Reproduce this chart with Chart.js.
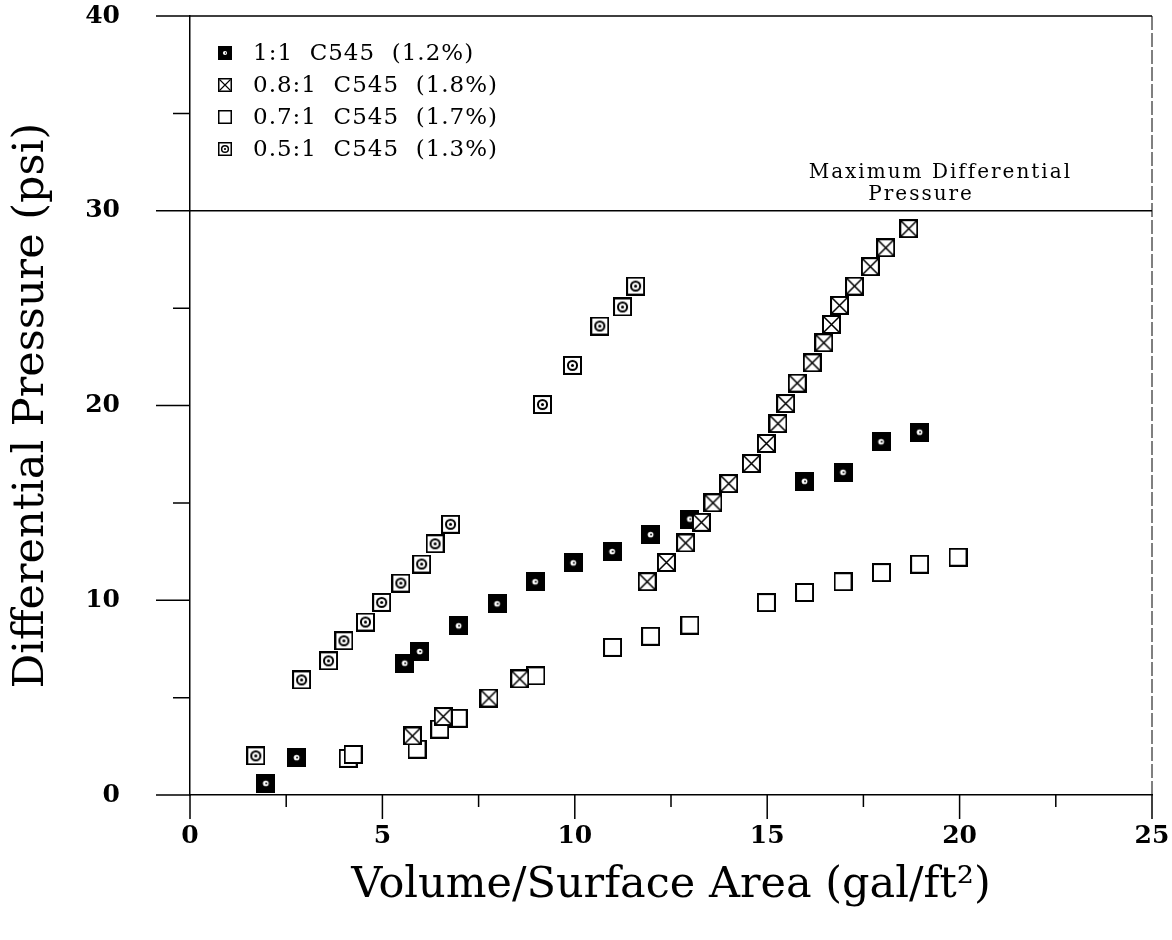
<!DOCTYPE html>
<html>
<head>
<meta charset="utf-8">
<script src="https://cdn.jsdelivr.net/npm/chart.js@4.4.1/dist/chart.umd.min.js"></script>
<style>
  html, body { margin: 0; padding: 0; background: #fff; }
</style>
</head>
<body>
<canvas id="chart" width="1172" height="940"></canvas>
<script>
// 1:1 C545 (1.2%) - filled squares
const ratio11X = [1.97, 2.77, 5.58, 5.97, 6.98, 7.98, 8.97, 9.96, 10.97, 11.97, 12.99, 15.97, 16.97, 17.96, 18.96];
const ratio11Y = [0.6, 1.92, 6.77, 7.37, 8.69, 9.82, 10.95, 11.92, 12.5, 13.37, 14.17, 16.11, 16.57, 18.14, 18.63];

// 0.8:1 C545 (1.8%) - crossed squares
const ratio08X = [5.78, 6.58, 7.77, 8.57, 11.88, 12.38, 12.88, 13.29, 13.59, 14.0, 14.59, 14.98, 15.28, 15.48, 15.78, 16.17, 16.47, 16.67, 16.88, 17.27, 17.68, 18.08, 18.68];
const ratio08Y = [3.03, 4.03, 4.98, 5.96, 10.95, 11.94, 12.94, 14.0, 15.0, 15.99, 17.02, 18.05, 19.07, 20.1, 21.15, 22.19, 23.22, 24.16, 25.14, 26.13, 27.13, 28.1, 29.08];

// 0.7:1 C545 (1.7%) - open squares
const ratio07X = [4.11, 4.24, 5.9, 6.49, 6.97, 8.99, 10.98, 11.97, 12.99, 14.98, 15.97, 16.97, 17.97, 18.96, 19.96];
const ratio07Y = [1.88, 2.08, 2.35, 3.38, 3.94, 6.12, 7.58, 8.15, 8.72, 9.88, 10.4, 10.95, 11.42, 11.85, 12.21];

// 0.5:1 C545 (1.3%) - squares with a dot
const ratio05X = [1.71, 2.9, 3.6, 4.0, 4.56, 4.98, 5.48, 6.02, 6.37, 6.77, 9.16, 9.94, 10.65, 11.24, 11.58];
const ratio05Y = [2.01, 5.91, 6.89, 7.92, 8.88, 9.89, 10.88, 11.86, 12.9, 13.9, 20.05, 22.06, 24.08, 25.06, 26.13];

const seriesLabels = ['1:1  C545  (1.2%)', '0.8:1  C545  (1.8%)', '0.7:1  C545  (1.7%)', '0.5:1  C545  (1.3%)'];
const xTicks = [0, 5, 10, 15, 20, 25];
const yTicks = [0, 10, 20, 30, 40];
const maxLineX = [0, 25];
const maxLineY = [30, 30];
const maxLineText = ['Maximum Differential', 'Pressure'];

const FONT = '"DejaVu Serif", "Liberation Serif", serif';

// Build the marker images used as point styles
function makeMarker(kind, size) {
  const c = document.createElement('canvas');
  c.width = size;
  c.height = size;
  const g = c.getContext('2d');
  const lw = size > 16 ? 2 : 1.5;
  if (kind === 'filled') {
    g.fillStyle = '#000';
    g.fillRect(0, 0, size, size);
    g.fillStyle = '#fff';
    g.beginPath();
    g.arc(size / 2, size / 2, size * 0.15, 0, Math.PI * 2);
    g.fill();
    g.fillStyle = '#000';
    g.beginPath();
    g.arc(size / 2 + 0.5, size / 2, size * 0.05, 0, Math.PI * 2);
    g.fill();
    return c;
  }
  g.fillStyle = '#fff';
  g.fillRect(0, 0, size, size);
  g.strokeStyle = '#000';
  g.lineWidth = lw;
  g.strokeRect(lw / 2, lw / 2, size - lw, size - lw);
  if (kind === 'cross') {
    g.lineWidth = lw * 0.75;
    g.beginPath();
    g.moveTo(lw, lw);
    g.lineTo(size - lw, size - lw);
    g.moveTo(size - lw, lw);
    g.lineTo(lw, size - lw);
    g.stroke();
  }
  if (kind === 'dot') {
    g.lineWidth = lw;
    g.beginPath();
    g.arc(size / 2, size / 2, size * 0.24, 0, Math.PI * 2);
    g.stroke();
    g.fillStyle = '#000';
    g.beginPath();
    g.arc(size / 2, size / 2, size * 0.08, 0, Math.PI * 2);
    g.fill();
  }
  return c;
}

const markerKinds = ['filled', 'cross', 'open', 'dot'];
const plotMarkers = markerKinds.map(k => makeMarker(k, 19));
const legendMarkers = markerKinds.map(k => makeMarker(k, 14));

const toPoints = (xs, ys) => xs.map((x, i) => ({ x: x, y: ys[i] }));

// Ticks, frame and the max pressure label
const framePlugin = {
  id: 'frame',
  afterDraw(chart) {
    const { ctx, chartArea: a, scales: { x, y } } = chart;
    ctx.save();
    ctx.strokeStyle = '#000';
    ctx.lineWidth = 1.5;
    ctx.beginPath();
    for (let v = 0; v <= 40; v += 5) {
      const py = y.getPixelForValue(v);
      const len = v % 10 === 0 ? 34 : 17;
      ctx.moveTo(a.left - len, py);
      ctx.lineTo(a.left, py);
    }
    for (let v = 0; v <= 25; v += 2.5) {
      const px = x.getPixelForValue(v);
      const len = v % 5 === 0 ? 24 : 12;
      ctx.moveTo(px, a.bottom);
      ctx.lineTo(px, a.bottom + len);
    }
    // top edge
    ctx.moveTo(a.left - 34, a.top);
    ctx.lineTo(a.right, a.top);
    ctx.stroke();

    // right edge, broken like the original
    ctx.lineWidth = 1;
    ctx.setLineDash([14, 3]);
    ctx.beginPath();
    ctx.moveTo(a.right, a.top);
    ctx.lineTo(a.right, a.bottom);
    ctx.stroke();
    ctx.setLineDash([]);

    // max pressure label
    ctx.fillStyle = '#000';
    ctx.font = '20px ' + FONT;
    ctx.letterSpacing = '2px';
    ctx.textAlign = 'center';
    ctx.textBaseline = 'alphabetic';
    const py = y.getPixelForValue(30);
    ctx.fillText(maxLineText[0], x.getPixelForValue(19.5), py - 33);
    ctx.fillText(maxLineText[1], x.getPixelForValue(19.0), py - 11);

    // legend
    ctx.font = '23px ' + FONT;
    ctx.letterSpacing = '1px';
    ctx.textAlign = 'left';
    ctx.textBaseline = 'middle';
    seriesLabels.forEach((label, i) => {
      const ly = a.top + 37 + i * 32;
      const m = legendMarkers[i];
      ctx.drawImage(m, a.left + 35 - m.width / 2, ly - m.height / 2);
      ctx.fillText(label, a.left + 63, ly + 1);
    });
    ctx.restore();
  }
};

const ctx = document.getElementById('chart').getContext('2d');

const datasets = [
  { label: seriesLabels[0], data: toPoints(ratio11X, ratio11Y), pointStyle: plotMarkers[0], order: 1 },
  { label: seriesLabels[1], data: toPoints(ratio08X, ratio08Y), pointStyle: plotMarkers[1], order: 0 },
  { label: seriesLabels[2], data: toPoints(ratio07X, ratio07Y), pointStyle: plotMarkers[2], order: 2 },
  { label: seriesLabels[3], data: toPoints(ratio05X, ratio05Y), pointStyle: plotMarkers[3], order: 1 },
  {
    type: 'line',
    label: 'max',
    data: toPoints(maxLineX, maxLineY),
    borderColor: '#000',
    borderWidth: 1.5,
    pointRadius: 0,
    order: 3
  }
];

new Chart(ctx, {
  type: 'scatter',
  data: { datasets: datasets },
  options: {
    responsive: false,
    animation: false,
    devicePixelRatio: 1,
    layout: { padding: { top: 16, right: 20, left: 0, bottom: 0 } },
    plugins: {
      legend: { display: false },
      tooltip: { enabled: false }
    },
    elements: { point: { radius: 10 } },
    scales: {
      x: {
        type: 'linear',
        min: 0,
        max: 25,
        afterBuildTicks: (scale) => { scale.ticks = xTicks.map(v => ({ value: v })); },
        afterFit: (scale) => {
          scale.height = 145;
          scale.paddingLeft = 0;
          scale.paddingRight = 0;
        },
        grid: { display: false, drawTicks: false },
        border: { display: true, color: '#000', width: 1.5 },
        ticks: { color: '#000', font: { family: FONT, size: 25, weight: 'bold' }, padding: 26 },
        title: {
          display: true,
          text: 'Volume/Surface Area (gal/ft\u00b2)',
          color: '#000',
          font: { family: FONT, size: 43 },
          padding: { top: 0, bottom: 28 }
        }
      },
      y: {
        type: 'linear',
        min: 0,
        max: 40,
        afterBuildTicks: (scale) => { scale.ticks = yTicks.map(v => ({ value: v })); },
        afterFit: (scale) => {
          scale.width = 190;
          scale.paddingTop = 0;
          scale.paddingBottom = 0;
        },
        grid: { display: false, drawTicks: false },
        border: { display: true, color: '#000', width: 1.5 },
        ticks: { color: '#000', font: { family: FONT, size: 25, weight: 'bold' }, padding: 70 },
        title: {
          display: true,
          text: 'Differential Pressure (psi)',
          color: '#000',
          font: { family: FONT, size: 43 },
          padding: { top: 6, bottom: 0 }
        }
      }
    }
  },
  plugins: [framePlugin]
});
</script>
</body>
</html>
